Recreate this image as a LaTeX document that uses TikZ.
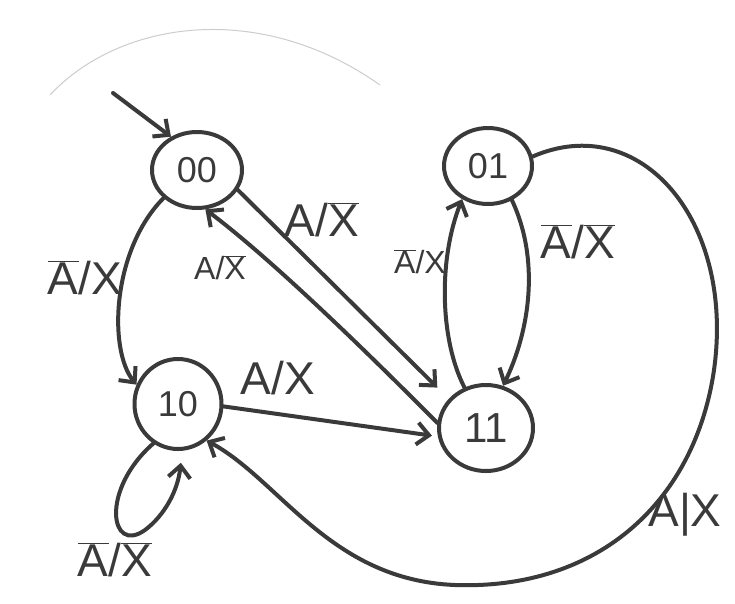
\documentclass[tikz,border=0pt]{standalone}
\usepackage{fontspec}
\setmainfont{Liberation Sans}
\usetikzlibrary{arrows.meta,shapes.geometric}
\definecolor{ink}{RGB}{58,58,58}
\newcommand\olbar[1]{$\overline{\mbox{#1}}$}
\begin{document}
\begin{tikzpicture}[x=1pt,y=-1pt,
  state/.style={draw=ink, ellipse, line width=4pt, inner sep=0pt, text=ink,
    font=\fontsize{36}{38}\selectfont},
  edge/.style={draw=ink, line width=4pt, line cap=round,
    -{Straight Barb[length=12pt,width=22pt,line width=4pt]}},
  big/.style={text=ink, font=\fontsize{46}{50}\selectfont, inner sep=0pt},
  small/.style={text=ink, font=\fontsize{32}{36}\selectfont, inner sep=0pt}]
\useasboundingbox (0,0) rectangle (735,603);
% faint pencil stroke
\draw[black!20, line width=1pt] (50,95) .. controls (120,20) and (260,0) .. (380,85);

\node[state, minimum width=90pt, minimum height=76pt] (s00) at (197,170) {00};
\node[state, minimum width=88pt, minimum height=76pt] (s01) at (488,166) {01};
\node[state, minimum width=87pt, minimum height=90pt] (s10) at (178,404) {10};
\node[state, minimum width=94pt, minimum height=86pt,
  font=\fontsize{42}{44}\selectfont] (s11) at (486,428) {11};

\coordinate (init) at (113,93);
\draw[edge] (init) -- (s00.128);

% 00 -> 10
\draw[edge] (s00.220) .. controls (112,250) and (108,350) .. (s10.155);
% 00 -> 11 (outer)
\draw[edge, shorten >=16pt] (s00.-26) -- (s11.142);
% 11 -> 00 (inner)
\draw[edge] (s11.174) .. controls (360,345) and (270,258) .. (s00.-78);
% 10 -> 11
\draw[edge, shorten >=6pt] (s10.-3) -- (s11.190);
% 01 -> 11
\draw[edge] (s01.-55) .. controls (540,260) and (530,330) .. (s11.68);
% 11 -> 01
\draw[edge] (s11.118) .. controls (440,340) and (438,260) .. (s01.-128);
% 01 -> 10 big loop
\draw[edge] (s01.12) .. controls (640,110) and (735,220) .. (714,370)
  .. controls (695,500) and (600,590) .. (455,585)
  .. controls (330,580) and (280,480) .. (s10.-52);
% self loop on 10
\draw[edge, shorten >=12pt] (s10.-122) .. controls (100,490) and (110,555) .. (145,530)
  .. controls (165,515) and (178,490) .. (s10.-85);

% labels
\node[big] (l1) at (85,278) {\olbar{A}/X};
\node[big] (l2) at (322,220) {A/\olbar{X}};
\node[small] (l3) at (220,268) {A/\olbar{X}};
\node[small] (l4) at (420,262) {\olbar{A}/X};
\node[big] (l5) at (578,242) {\olbar{A}/\olbar{X}};
\node[big] (l6) at (278,378) {A/X};
\node[big] (l7) at (115,560) {\olbar{A}/\olbar{X}};
\node[big] (l8) at (685,515) {A|X};
\end{tikzpicture}
\end{document}
